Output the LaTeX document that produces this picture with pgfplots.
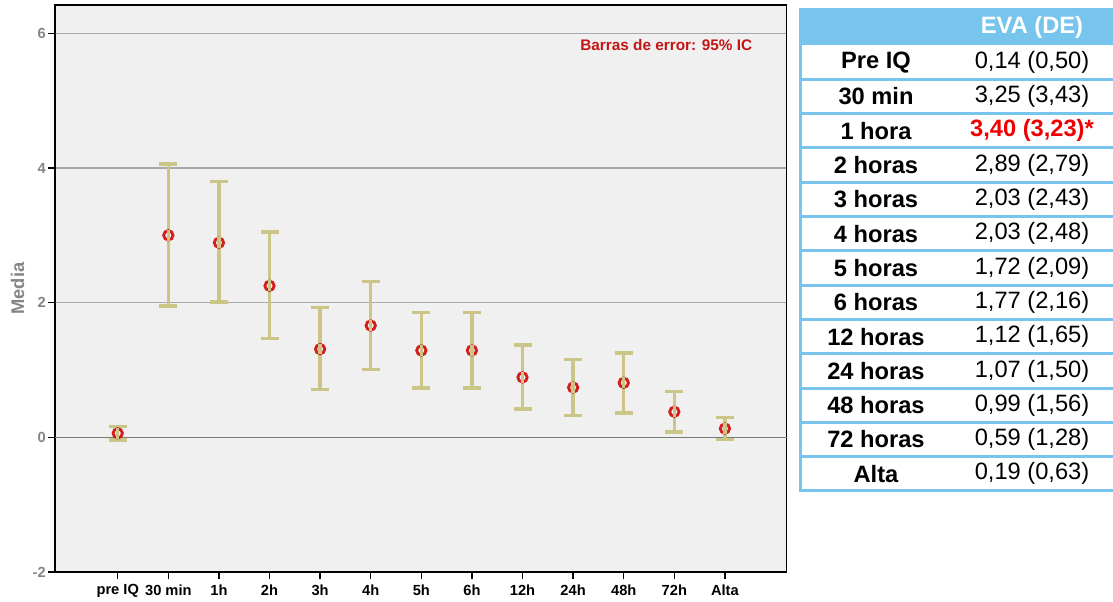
\documentclass[border=0pt]{standalone}
\usepackage{pgfplots}
\usepackage{pgfplotstable}
\pgfplotsset{compat=1.18}
\usepackage{fontspec}
\setmainfont{Liberation Sans}

\definecolor{panel}{HTML}{F0F0F0}
\definecolor{gridgray}{HTML}{A9A9A9}
\definecolor{zerogray}{HTML}{7A7A7A}
\definecolor{barkhaki}{HTML}{CBC587}
\definecolor{markred}{HTML}{D41E1E}
\definecolor{notered}{HTML}{C41414}
\definecolor{labelgray}{HTML}{858585}
\definecolor{tblblue}{HTML}{77C4EC}
\definecolor{hotred}{HTML}{F00000}

% mean and 95% CI half-widths (upper / lower) per time point
\pgfplotstableread{
x  m     ep    en
0  0.06  0.10  0.10
1  3.00  1.06  1.05
2  2.89  0.91  0.88
3  2.25  0.80  0.78
4  1.31  0.62  0.60
5  1.66  0.65  0.65
6  1.29  0.56  0.56
7  1.29  0.56  0.56
8  0.89  0.48  0.47
9  0.74  0.42  0.42
10 0.81  0.44  0.45
11 0.38  0.30  0.30
12 0.13  0.16  0.16
}\evadata

\begin{document}
\begin{tikzpicture}
\useasboundingbox (0,0) rectangle (667.8pt,-361.2pt);
\begin{axis}[
  at={(33pt,-343.2pt)}, anchor=south west,
  scale only axis, width=439pt, height=340.2pt,
  xmin=-1.24, xmax=13.22, ymin=-2, ymax=6.42,
  axis background/.style={fill=panel},
  axis line style={black, line width=1pt},
  xtick={0,...,12},
  xticklabels={pre IQ,30 min,1h,2h,3h,4h,5h,6h,12h,24h,48h,72h,Alta},
  ytick={-2,2,4,6},
  extra y ticks={0},
  extra y tick style={grid style={zerogray, line width=0.6pt}},
  ymajorgrids,
  grid style={gridgray, line width=0.9pt},
  tick align=outside, tick pos=left,
  major tick length=4pt,
  tick style={black, line width=0.9pt},
  /pgf/number format/assume math mode=true,
  xticklabel style={font=\fontsize{8.8}{10}\selectfont\bfseries, black},
  yticklabel style={font=\fontsize{8.8}{10}\selectfont\bfseries, labelgray, xshift=2pt},
  ylabel={Media},
  ylabel style={font=\fontsize{11}{13}\selectfont\bfseries, labelgray,
    at={(axis description cs:-0.051,0.5)}, anchor=center},
  clip=false,
]
% 95% confidence intervals
\addplot[draw=none, mark=none,
  error bars/.cd, y dir=both, y explicit,
  error bar style={draw=barkhaki, line width=2pt},
  error mark options={rotate=90, mark size=5.4pt, draw=barkhaki, line width=2pt}]
  table[x=x, y=m, y error plus=ep, y error minus=en] \evadata;
% means: open circles
\addplot[only marks, mark=o, mark size=2.8pt,
  mark options={draw=markred, line width=1.7pt}]
  table[x=x, y=m] \evadata;
% interval line running through each circle
\addplot[only marks, mark=|, mark size=3.2pt,
  mark options={draw=barkhaki, line width=2pt}]
  table[x=x, y=m] \evadata;
\node[anchor=east, notered, font=\fontsize{9.2}{11}\selectfont\bfseries]
  at (rel axis cs:0.961,0.929) {Barras de error: 95\% IC};
\end{axis}

% summary table
\begin{scope}[x=0.6pt, y=-0.6pt, font=\fontsize{14.2}{16}\selectfont]
  \fill[tblblue] (799,8) rectangle (1113,45);
  \foreach \k in {1,...,13} {
    \draw[tblblue, line width=1.8pt] (799,{45+34.3*\k}) -- (1113,{45+34.3*\k});
  }
  \draw[tblblue, line width=1.8pt] (800.5,8) -- (800.5,492);
  \node[white, font=\fontsize{14.2}{16}\selectfont\bfseries] at (1032,27) {EVA (DE)};
  \node[font=\fontsize{14.2}{16}\selectfont\bfseries] at (876,62.2)  {Pre IQ};
  \node[font=\fontsize{14.2}{16}\selectfont\bfseries] at (876,96.5)  {30 min};
  \node[font=\fontsize{14.2}{16}\selectfont\bfseries] at (876,130.8) {1 hora};
  \node[font=\fontsize{14.2}{16}\selectfont\bfseries] at (876,165.1) {2 horas};
  \node[font=\fontsize{14.2}{16}\selectfont\bfseries] at (876,199.4) {3 horas};
  \node[font=\fontsize{14.2}{16}\selectfont\bfseries] at (876,233.7) {4 horas};
  \node[font=\fontsize{14.2}{16}\selectfont\bfseries] at (876,268.0) {5 horas};
  \node[font=\fontsize{14.2}{16}\selectfont\bfseries] at (876,302.3) {6 horas};
  \node[font=\fontsize{14.2}{16}\selectfont\bfseries] at (876,336.6) {12 horas};
  \node[font=\fontsize{14.2}{16}\selectfont\bfseries] at (876,370.9) {24 horas};
  \node[font=\fontsize{14.2}{16}\selectfont\bfseries] at (876,405.2) {48 horas};
  \node[font=\fontsize{14.2}{16}\selectfont\bfseries] at (876,439.5) {72 horas};
  \node[font=\fontsize{14.2}{16}\selectfont\bfseries] at (876,473.8) {Alta};
  \node at (1032,62.2)  {0,14 (0,50)};
  \node at (1032,96.5)  {3,25 (3,43)};
  \node[hotred, font=\fontsize{14.2}{16}\selectfont\bfseries] at (1032,130.8) {3,40 (3,23)*};
  \node at (1032,165.1) {2,89 (2,79)};
  \node at (1032,199.4) {2,03 (2,43)};
  \node at (1032,233.7) {2,03 (2,48)};
  \node at (1032,268.0) {1,72 (2,09)};
  \node at (1032,302.3) {1,77 (2,16)};
  \node at (1032,336.6) {1,12 (1,65)};
  \node at (1032,370.9) {1,07 (1,50)};
  \node at (1032,405.2) {0,99 (1,56)};
  \node at (1032,439.5) {0,59 (1,28)};
  \node at (1032,473.8) {0,19 (0,63)};
\end{scope}
\end{tikzpicture}
\end{document}
